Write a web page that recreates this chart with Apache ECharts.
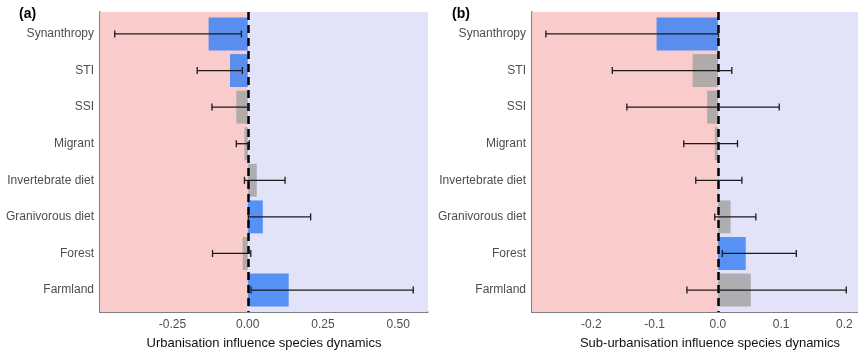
<!DOCTYPE html>
<html>
<head>
<meta charset="utf-8">
<script src="https://cdn.jsdelivr.net/npm/echarts@6/dist/echarts.min.js"></script>
<style>
  html, body { margin: 0; padding: 0; background: #fff; }
  #chart { width: 858px; height: 352px; }
</style>
</head>
<body>
<div id="chart"></div>
<script>
var categories = ['Synanthropy', 'STI', 'SSI', 'Migrant', 'Invertebrate diet', 'Granivorous diet', 'Forest', 'Farmland'];

// (a) urbanisation
var urbanEstimate = [-0.130, -0.059, -0.038, -0.011, 0.030, 0.050, -0.017, 0.136];
var urbanLower    = [-0.442, -0.168, -0.119, -0.038, -0.011, 0.002, -0.117, 0.011];
var urbanUpper    = [-0.021, -0.018, 0.002, 0.005, 0.124, 0.209, 0.010, 0.550];
var urbanSignif   = [true, true, false, false, false, true, false, true];
var urbanTicks    = [-0.25, 0, 0.25, 0.5];

// (b) sub-urbanisation
var subEstimate = [-0.097, -0.040, -0.017, -0.005, 0.001, 0.020, 0.044, 0.052];
var subLower    = [-0.272, -0.167, -0.144, -0.054, -0.035, -0.005, 0.007, -0.049];
var subUpper    = [0.001, 0.022, 0.097, 0.031, 0.038, 0.060, 0.124, 0.203];
var subSignif   = [true, false, false, false, false, false, true, false];
var subTicks    = [-0.2, -0.1, 0, 0.1, 0.2];

var FONT = 'Liberation Sans';
var BLUE = 'rgba(66,133,244,0.88)';
var GREY = 'rgba(160,160,160,0.8)';
var BAR_HALF = 0.45;

function barData(est, sig) {
  return est.map(function (v, i) { return [v, i, sig[i] ? 1 : 0]; });
}
function renderBar(params, api) {
  var i = api.value(1);
  var a = api.coord([0, i - BAR_HALF]);
  var b = api.coord([api.value(0), i + BAR_HALF]);
  return {
    type: 'rect',
    shape: {
      x: Math.min(a[0], b[0]), y: Math.min(a[1], b[1]),
      width: Math.abs(b[0] - a[0]), height: Math.abs(b[1] - a[1])
    },
    style: { fill: api.value(2) ? BLUE : GREY }
  };
}
function errData(lo, hi) {
  return lo.map(function (v, i) { return [v, hi[i], i]; });
}
function renderErr(params, api) {
  var y = api.value(2);
  var p1 = api.coord([api.value(0), y]);
  var p2 = api.coord([api.value(1), y]);
  var h = 3.5;
  var st = { stroke: '#1a1a1a', lineWidth: 1.3 };
  return {
    type: 'group',
    children: [
      { type: 'line', shape: { x1: p1[0], y1: p1[1], x2: p2[0], y2: p2[1] }, style: st },
      { type: 'line', shape: { x1: p1[0], y1: p1[1] - h, x2: p1[0], y2: p1[1] + h }, style: st },
      { type: 'line', shape: { x1: p2[0], y1: p2[1] - h, x2: p2[0], y2: p2[1] + h }, style: st }
    ]
  };
}

function xAxisCfg(idx, min, max, ticks, dec, name) {
  return {
    gridIndex: idx, type: 'value', min: min, max: max,
    splitLine: { show: false },
    axisLine: { show: true, onZero: false, lineStyle: { color: '#555', width: 1.5 } },
    axisTick: { show: false },
    axisLabel: {
      customValues: ticks, color: '#4d4d4d', fontSize: 12, fontFamily: FONT, margin: 7,
      formatter: function (v) { return v.toFixed(dec); }
    },
    name: name, nameLocation: 'middle', nameGap: 25,
    nameTextStyle: { color: '#111', fontSize: 13, fontFamily: FONT }
  };
}
function yAxisCfg(idx) {
  return {
    gridIndex: idx, type: 'value', min: -0.6, max: categories.length - 0.4, inverse: true,
    splitLine: { show: false },
    axisLine: { show: true, onZero: false, lineStyle: { color: '#555', width: 1.5 } },
    axisTick: { show: false },
    axisLabel: {
      customValues: categories.map(function (c, i) { return i; }),
      color: '#4d4d4d', fontSize: 12, fontFamily: FONT, margin: 6,
      formatter: function (v) { return categories[v]; }
    }
  };
}
function barSeries(idx, est, sig, min, max) {
  return {
    type: 'custom', xAxisIndex: idx, yAxisIndex: idx, z: 2,
    renderItem: renderBar, data: barData(est, sig),
    encode: { x: 0, y: 1 },
    markArea: {
      silent: true,
      data: [
        [{ xAxis: min, itemStyle: { color: '#f9cbcb' } }, { xAxis: 0 }],
        [{ xAxis: 0, itemStyle: { color: '#e2e2f8' } }, { xAxis: max }]
      ]
    },
    markLine: {
      silent: true, symbol: 'none', label: { show: false },
      lineStyle: { color: '#000', width: 2.5, type: [8, 5] },
      data: [{ xAxis: 0 }]
    }
  };
}
function errSeries(idx, lo, hi) {
  return {
    type: 'custom', xAxisIndex: idx, yAxisIndex: idx, z: 10,
    renderItem: renderErr, data: errData(lo, hi),
    encode: { x: [0, 1], y: 2 }
  };
}

var chart = echarts.init(document.getElementById('chart'));
chart.setOption({
  animation: false,
  grid: [
    { left: 100, right: 430, top: 12, bottom: 40, outerBoundsMode: 'none' },
    { left: 532, width: 356, top: 12, bottom: 40, outerBoundsMode: 'none' }
  ],
  xAxis: [
    xAxisCfg(0, -0.491, 0.599, urbanTicks, 2, 'Urbanisation influence species dynamics'),
    xAxisCfg(1, -0.294, 0.269, subTicks, 1, 'Sub-urbanisation influence species dynamics')
  ],
  yAxis: [yAxisCfg(0), yAxisCfg(1)],
  graphic: [
    { type: 'text', left: 19, top: 7, style: { text: '(a)', font: 'bold 14px ' + FONT, fill: '#000' } },
    { type: 'text', left: 452, top: 7, style: { text: '(b)', font: 'bold 14px ' + FONT, fill: '#000' } }
  ],
  series: [
    barSeries(0, urbanEstimate, urbanSignif, -0.491, 0.599),
    errSeries(0, urbanLower, urbanUpper),
    barSeries(1, subEstimate, subSignif, -0.294, 0.269),
    errSeries(1, subLower, subUpper)
  ]
});
</script>
</body>
</html>
